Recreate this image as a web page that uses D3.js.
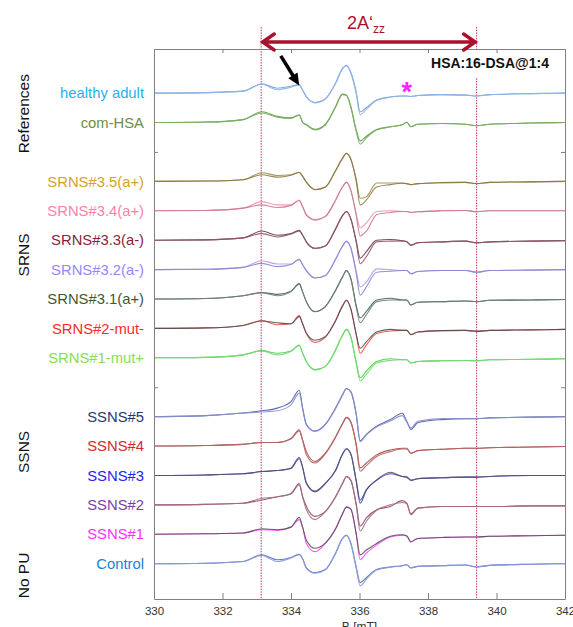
<!DOCTYPE html>
<html>
<head>
<meta charset="utf-8">
<script src="https://cdn.jsdelivr.net/npm/d3@7"></script>
<style>
  body { margin: 0; background: #fff; }
  svg { display: block; }
  text { font-family: "Liberation Sans", Arial, sans-serif; }
</style>
</head>
<body>
<svg id="chart" width="573" height="627"></svg>
<script>
"use strict";

// magnetic field grid (mT) shared by every spectrum
const fieldB = [330, 331.5, 332.6, 333.15, 333.6, 334.0, 334.24, 334.34, 334.45, 334.7,
                335.0, 335.3, 335.5, 335.62, 335.75, 335.9, 336.02, 336.2, 336.5, 336.9,
                337.25, 337.38, 337.5, 337.7, 338.4, 339.1, 339.42, 339.8, 341, 342];

// two runs per sample, amplitude in a.u. (positive = up)
const healthyAdult = [
  [0, 0.5, 2, 9.5, 5, 7, 8.7, 3, -3.5, -9.5, -6, 10, 25, 28.5, 21, 2, -19, -15, -7, -4, -3, -3, -3.5, -2.5, -1.5, -2, -3, -1.5, -0.5, 0],
  [0, 0.5, 2, 9, 3.5, 6, 8.2, 3, -4, -10, -6, 10, 24.5, 28, 20, 0, -22, -16.5, -7.5, -4, -3, -3, -3.5, -2.5, -1.5, -2, -3, -1.5, -0.5, 0]];
const comHSA = [
  [0, 0.5, 3, 11, 6.3, 4.7, 8, 0, -2, -7, -2, 16, 29, 28, 16, -7, -18.7, -14, -7, -4.3, -2.3, 0.3, -4.3, -1.7, -1, -1.7, -3.3, -1.7, -0.5, 0],
  [0, 0.5, 3, 9.7, 5.5, 4.2, 7.5, 0, -2.5, -7.5, -2.5, 15.5, 28.5, 27.5, 15, -8.5, -22, -15.5, -7.5, -4.5, -2.3, 0.3, -4.3, -1.7, -1, -1.7, -3.3, -1.7, -0.5, 0]];
const srns35 = [
  [0, 0.3, 1.7, 8.7, 6, 6.7, 9.3, 5, -0.7, -8.3, -5.7, 11, 23.7, 28.7, 22.7, 2.7, -17.3, -15.7, -1.7, -1.7, -1.7, -2.3, -3.3, -2.3, -1.3, -1, -2.3, -1, -0.5, 0],
  [0, 0.3, 1.7, 6.7, 4.3, 6.2, 9, 5, -1, -8.5, -6, 10.5, 23, 28.5, 22, 1, -24, -19, -5.7, -3.3, -2, -2.3, -3.3, -2.3, -1.3, -1, -2.3, -1, -0.5, 0]];
const srns34 = [
  [0, 0.3, 2.7, 9.3, 6, 6, 11, 4.3, -4, -9, -5.7, 11, 24.3, 29.3, 21, -2.3, -17.3, -12.3, -0.7, 0, -0.7, -0.7, -1.7, -1, 0, 0.3, -1, 0, 0, 0],
  [0, 0.3, 2.7, 6, 3.3, 5.5, 10.5, 4, -4.5, -9.5, -6, 10.5, 24, 29, 20, -4, -25.7, -20.7, -4, -1.7, -0.7, -0.7, -1.7, -1, 0, 0.3, -1, 0, 0, 0]];
const srns33 = [
  [0, 0.3, 2.3, 9.3, 5, 6.7, 10, 5, -1.7, -8.3, -6, 11.7, 25, 29.3, 21.7, 0, -18.3, -11.7, 0, 0.7, -0.7, -1.7, -5, -2.7, -1.7, -1, -2.7, -1.7, -1, -0.5],
  [0, 0.3, 2.3, 6.7, 3.3, 6.2, 9.5, 5, -2, -8.5, -6, 11, 24.5, 29, 21, -1.5, -24, -16.7, -1.7, -1, -0.7, -1.7, -5, -2.7, -1.7, -1, -2.7, -1.7, -1, -0.5]];
const srns32 = [
  [0, 0.3, 2.3, 9, 5.7, 5.7, 10.7, 5, -1, -8.3, -6, 10.7, 24, 29, 22.3, -1, -17.7, -12.7, 0.7, 0, -1, -1, -4.3, -2, -1, -1, -2.7, -1, -0.5, 0],
  [0, 0.3, 2.3, 6.3, 3, 5.2, 10.2, 4.7, -1.3, -8.6, -6.2, 10.2, 23.5, 28.7, 21.5, -3, -26, -17.7, -2.7, -1.7, -1, -1, -4.3, -2, -1, -1, -2.7, -1, -0.5, 0]];
const srns31 = [
  [0, 0.5, 3.3, 6.7, 4.7, 8, 15.7, 7.3, -2.7, -12.7, -7.7, 9, 22.3, 29, 20.7, -6, -19.3, -12.7, -1, 0.7, -1, -1, -6, -3.3, -2.7, -2, -2.7, -1.3, -1, -0.5],
  [0, 0.5, 3.3, 6.2, 3.3, 7.5, 15, 7, -3, -13, -8, 8.5, 22, 28.7, 20, -7.5, -24.3, -16, -2.7, -1, -1, -1, -6, -3.3, -2.7, -2, -2.7, -1.3, -1, -0.5]];
const srns2 = [
  [0, 0.5, 3, 8, 3.7, 4.7, 13, 4.7, -5.3, -14.3, -9, 8, 23, 29, 19.7, -5.3, -25.3, -17, -5.3, -2.7, -2, -2, -6.3, -3.7, -2.3, -2, -3, -2, -1.5, -1],
  [0, 0.5, 3, 7.5, 5.7, 4.7, 12, 4.5, -5, -12, -8.5, 7.5, 22.5, 28.5, 19.5, -5.5, -20.3, -13.7, -3.7, -1, -2, -2, -6.3, -3.7, -2.3, -2, -3, -2, -1.5, -1]];
const srns1 = [
  [0, 0.5, 3, 7.3, 4.7, 7, 13, 4.7, -3.7, -12, -8.7, 8, 23, 29, 21.3, -3.7, -20.3, -13.7, -3.7, -1, -2, -2, -5.3, -3.7, -3, -2.7, -3, -2, -1.5, -1],
  [0, 0.5, 3, 7, 3, 6.5, 12.5, 4.5, -4, -12.5, -9, 7.5, 22.5, 28.5, 20.5, -5, -23.7, -17, -5.3, -2.7, -2, -2, -5.3, -3.7, -3, -2.7, -3, -2, -1.5, -1]];
const ssns5 = [
  [0, 1, 3.7, 6, 8.7, 15.3, 27, 8.7, -8, -14.7, -8, 8.7, 22, 28.7, 25.3, 3.7, -24.7, -18, -9.7, -3, 3.5, -4.7, -13, -6.3, -3, -2, -2, -1.3, -0.5, 0],
  [0, 1, 3.7, 4.7, 6, 12, 24, 8, -8.5, -15, -8.3, 8.2, 21.5, 28.5, 25, 3, -25.5, -18.5, -10.5, -4.5, 1, -5.5, -11.3, -4.7, -2, -2, -2, -1.3, -0.5, 0]];
const ssns4 = [
  [0, 0.5, 1.7, 3.7, 3.7, 7.7, 16.7, 6, -5.7, -15.7, -7.3, 9.3, 22.7, 29.3, 24.3, 2.7, -22.3, -17.3, -9, -4, -2.3, -2.3, -7.3, -4.7, -3.3, -2.3, -2.3, -1.7, -1, -0.5],
  [0, 0.5, 1.7, 3.7, 3.7, 7.2, 15.5, 5.5, -9, -17.3, -8, 8.8, 22.2, 29, 24, 1.5, -25.7, -20, -10.7, -5.7, -3, -3, -7.3, -4.7, -3.3, -2.3, -2.3, -1.7, -1, -0.5]];
const ssns3 = [
  [0, 0.5, 1.7, 4, 5, 7.7, 18.3, 8.3, -8.3, -16.7, -8.3, 5, 21.7, 27.3, 21.7, -5, -28.3, -15, -5, 1.7, -1, -1.7, -5, -3.3, -2.3, -1.7, -1.7, -1, 0, 0],
  [0, 0.5, 1.7, 4, 5, 7.2, 17, 8, -7.5, -16, -8, 5, 21.2, 27, 21.5, -4.5, -25, -14.5, -4.5, 3.3, -1, -1.7, -5, -3.3, -2.3, -1.7, -1.7, -1, 0, 0]];
const ssns2 = [
  [0, 0.5, 1.7, 5, 8.3, 11.7, 21.7, 8.3, -1.7, -11.7, -6.7, 8.3, 21.7, 29, 25, 1.7, -21.7, -13.3, -5, -1.7, 4.3, 1.7, -10, -3.3, -1.7, -1.7, -1.7, -1.7, -1, -1],
  [0, 0.5, 1.7, 6.7, 8.3, 11.2, 20.5, 8, -5, -15, -7.2, 7.8, 21.2, 28.7, 24.5, 0.5, -26.7, -16.7, -5.5, 0, 2.5, 1.2, -9, -3.3, -1.7, -1.7, -1.7, -1.7, -1, -1]];
const ssns1 = [
  [0, 0.5, 1.3, 4.7, 4, 7.3, 15, 7, -9.3, -17.7, -9.3, 5.7, 20.7, 28, 25.7, 0.7, -26, -19.3, -11, -2.7, -1, -1.7, -7.7, -4.3, -3.3, -2.7, -2.7, -2, -1.5, -1],
  [0, 0.5, 1.3, 5.7, 4.7, 7.3, 17.3, 7, -6, -14.3, -9, 5.5, 20.5, 27.7, 25.3, 1.5, -21, -16, -9.3, -2, -0.5, -1.7, -7.7, -4.3, -3.3, -2.7, -2.7, -2, -1.5, -1]];
const control = [
  [0, 0.5, 2.3, 9, 4, 6.3, 9.7, 5, -4.3, -9.3, -6, 10.7, 25.7, 29, 20.7, -2.7, -19.3, -14.3, -6, -3.3, -2, -1, -4.3, -2.7, -2, -1.3, -3.3, -1.7, -0.5, 0],
  [0, 0.5, 2.3, 8.5, 2.3, 5.8, 9.2, 4.8, -4.8, -9.8, -6.3, 10.2, 25.2, 28.7, 20, -4, -22.7, -16, -6.5, -3.5, -2, -1, -4.3, -2.7, -2, -1.3, -3.3, -1.7, -0.5, 0]];

const sampleNames = ["healthy adult", "com-HSA", "SRNS#3.5(a+)", "SRNS#3.4(a+)", "SRNS#3.3(a-)",
  "SRNS#3.2(a-)", "SRNS#3.1(a+)", "SRNS#2-mut-", "SRNS#1-mut+", "SSNS#5", "SSNS#4",
  "SSNS#3", "SSNS#2", "SSNS#1", "Control"];
const sampleSpectra = [healthyAdult, comHSA, srns35, srns34, srns33, srns32, srns31, srns2,
  srns1, ssns5, ssns4, ssns3, ssns2, ssns1, control];
// stacking slot of each sample (gaps separate the groups)
const sampleSlot = [0, 1, 3, 4, 5, 6, 7, 8, 9, 11, 12, 13, 14, 15, 16];

const groupNames = ["References", "SRNS", "SSNS", "No PU"];
const xTicks = [330, 332, 334, 336, 338, 340, 342];
const azzFields = [333.13, 339.42];   // 2A'zz markers (mT)

// styles
const labelColors = ["#27b0f0", "#6b8f3c", "#d4a22a", "#ff7fa6", "#8c1d3d", "#9a84ff", "#3d5a2d",
  "#ff2a2a", "#88dd55", "#1f3a70", "#d42a2a", "#2424f0", "#7a40a8", "#ff30ff", "#1a82d4"];
const lineColors = [
  ["#6d9fdc", "#8fb4e4"], ["#5c9a45", "#7cae62"], ["#a08a50", "#8a7840"], ["#e496ae", "#cc7890"],
  ["#6a3a4a", "#8e5666"], ["#ab9ce8", "#9282d2"], ["#4a6258", "#6e7e74"], ["#f04848", "#505050"],
  ["#44cc44", "#78da78"], ["#4a58b0", "#8890c8"], ["#a04848", "#b46464"], ["#3838e0", "#555560"],
  ["#904868", "#a46a84"], ["#ff40ff", "#555555"], ["#5068c8", "#8a9ad8"]];
const groupCenters = [0.7, 5.5, 12.2, 16.4];   // in slot units

const slotStep = 30;
const svg = d3.select("#chart");
const margin = {left: 154, right: 8, top: 49, bottom: 28};
const W = 573, H = 627;

const x = d3.scaleLinear().domain([330, 342]).range([margin.left, W - margin.right]);
const y = d3.scaleLinear().domain([-45, 516]).range([margin.top, H - margin.bottom]);

const gridColor = "#808080";

// dotted marker lines
const darkRed = "#a8122e";
svg.selectAll("line.marker").data(azzFields).enter().append("line")
  .attr("class", "marker")
  .attr("x1", d => x(d)).attr("x2", d => x(d))
  .attr("y1", 27).attr("y2", y.range()[1])
  .attr("stroke", "#c0305a").attr("stroke-width", 1)
  .attr("stroke-dasharray", "1.5,1.2");

// spectra
const line = d3.line()
  .x((d, i) => x(fieldB[i]))
  .curve(d3.curveMonotoneX);

const traces = svg.append("g");
sampleSpectra.forEach((runs, s) => {
  const off = sampleSlot[s] * slotStep;
  runs.forEach((run, r) => {
    traces.append("path")
      .attr("d", line.y(v => y(off - v))(run))
      .attr("fill", "none")
      .attr("stroke", lineColors[s][r])
      .attr("stroke-width", 1.1)
      .attr("stroke-opacity", 0.9);
  });
});

// sample labels
svg.selectAll("text.sample").data(sampleNames).enter().append("text")
  .attr("class", "sample")
  .attr("x", margin.left - 10)
  .attr("y", (d, i) => y(sampleSlot[i] * slotStep))
  .attr("dy", "0.35em")
  .attr("text-anchor", "end")
  .attr("font-size", 14.8)
  .attr("fill", (d, i) => labelColors[i])
  .text(d => d);

// group labels
svg.selectAll("text.group").data(groupNames).enter().append("text")
  .attr("class", "group")
  .attr("transform", (d, i) => `translate(24,${y(groupCenters[i] * slotStep)}) rotate(-90)`)
  .attr("dy", "0.35em")
  .attr("text-anchor", "middle")
  .attr("font-size", 15.5)
  .attr("fill", "#111")
  .text(d => d);

// sample description box
svg.append("rect")
  .attr("x", 418).attr("y", y.range()[0] + 1).attr("width", 146).attr("height", 28)
  .attr("fill", "#fff");
svg.append("text")
  .attr("x", 490).attr("y", 68)
  .attr("text-anchor", "middle")
  .attr("font-size", 14).attr("font-weight", "bold").attr("fill", "#111")
  .text("HSA:16-DSA@1:4");

// axes / frame
function styleAxis(g) {
  g.selectAll("path.domain").attr("stroke", gridColor);
  g.selectAll(".tick line").attr("stroke", gridColor);
  g.selectAll(".tick text").attr("fill", "#333").attr("font-size", 11.5)
    .attr("font-family", "\"Liberation Sans\", Arial, sans-serif");
}
svg.append("g").attr("transform", `translate(0,${y.range()[1]})`)
  .call(d3.axisBottom(x).tickValues(xTicks).tickSizeInner(-6).tickSizeOuter(0).tickPadding(8).tickFormat(d3.format("d")))
  .call(styleAxis);
svg.append("g").attr("transform", `translate(0,${y.range()[0]})`)
  .call(d3.axisTop(x).tickValues(xTicks).tickSizeInner(-4).tickSizeOuter(0).tickFormat(""))
  .call(styleAxis);
svg.append("g").attr("transform", `translate(${x.range()[0]},0)`)
  .call(d3.axisLeft(y).tickValues([60, 300]).tickSizeInner(-4).tickSizeOuter(0).tickFormat(""))
  .call(styleAxis);
svg.append("g").attr("transform", `translate(${x.range()[1]},0)`)
  .call(d3.axisRight(y).tickValues([60, 300]).tickSizeInner(-4).tickSizeOuter(0).tickFormat(""))
  .call(styleAxis);

svg.append("text")
  .attr("x", x(336)).attr("y", 631)
  .attr("text-anchor", "middle").attr("font-size", 12).attr("fill", "#333")
  .text("B [mT]");

// 2A'zz double arrow
const ax1 = x(azzFields[0]), ax2 = x(azzFields[1]), ay = 42;
svg.append("path")
  .attr("d", `M${ax1 + 2},${ay}H${ax2 - 2}M${ax1 + 13},${ay - 8}L${ax1 + 1.5},${ay}L${ax1 + 13},${ay + 8}` +
             `M${ax2 - 13},${ay - 8}L${ax2 - 1.5},${ay}L${ax2 - 13},${ay + 8}`)
  .attr("fill", "none").attr("stroke", darkRed).attr("stroke-width", 3.5)
  .attr("stroke-linecap", "round").attr("stroke-linejoin", "miter");
const azz = svg.append("text")
  .attr("x", (ax1 + ax2) / 2 - 3).attr("y", 29)
  .attr("text-anchor", "middle").attr("font-size", 18).attr("fill", darkRed);
azz.append("tspan").text("2A\u2018");
azz.append("tspan").attr("font-size", 12).attr("dy", 4).text("zz");

// black arrow pointing at the healthy adult shoulder
const tipX = x(fieldB[6]), tipY = y(0 - healthyAdult[0][6]) + 1;
const dir = [0.527, 0.849], hl = 12, hw = 5.5;
const bx = tipX - hl * dir[0], by = tipY - hl * dir[1];
svg.append("line")
  .attr("x1", tipX - 35 * dir[0]).attr("y1", tipY - 35 * dir[1])
  .attr("x2", bx + dir[0]).attr("y2", by + dir[1])
  .attr("stroke", "#000").attr("stroke-width", 3.5);
svg.append("path")
  .attr("d", `M${tipX},${tipY}L${bx - hw * dir[1]},${by + hw * dir[0]}L${bx + hw * dir[1]},${by - hw * dir[0]}Z`)
  .attr("fill", "#000");

// magenta asterisk
svg.append("text")
  .attr("x", x(337.38)).attr("y", y(-7) + 15)
  .attr("text-anchor", "middle").attr("font-size", 27).attr("font-weight", "bold")
  .attr("fill", "#ff22ff")
  .text("*");
</script>
</body>
</html>
